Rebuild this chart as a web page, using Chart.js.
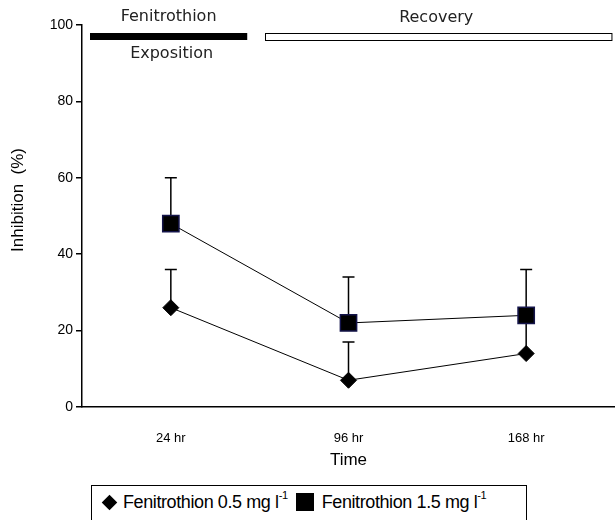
<!DOCTYPE html>
<html>
<head>
<meta charset="utf-8">
<script src="https://cdn.jsdelivr.net/npm/chart.js@4.4.1/dist/chart.umd.min.js"></script>
<style>
  html, body { margin: 0; background: #fff; overflow: hidden; width: 615px; height: 520px; }
  #chart { position: absolute; left: 0; top: 0; }
  #legend {
    position: absolute; left: 91px; top: 485px; width: 436px; height: 35px;
    border: 1px solid #000; border-bottom: none; box-sizing: border-box;
    font-family: "Liberation Sans Narrow", "Liberation Sans", Arial, sans-serif;
    font-size: 18px; color: #000; display: flex; align-items: center; padding: 0 0 2px 8px;
    letter-spacing: -0.4px;
  }
  #legend sup { font-size: 11px; position: relative; top: -2px; }
  .dia { display: inline-block; width: 11px; height: 11px; background: #000; transform: rotate(45deg); margin: 0 8px 0 4px; }
  .sq { display: inline-block; width: 18px; height: 18px; background: #000; margin: 0 8px 0 8px; }
</style>
</head>
<body>
<canvas id="chart" width="615" height="475"></canvas>
<div id="legend">
  <span class="dia"></span><span>Fenitrothion 0.5 mg l<sup>-1</sup></span>
  <span class="sq"></span><span>Fenitrothion 1.5 mg l<sup>-1</sup></span>
</div>
<script>
// Sampling times
const timeLabels = ['24 hr', '96 hr', '168 hr'];

// Inhibition (%) means and SD (upper bars only)
const lowDose = [26, 7, 14];
const lowDoseSD = [10, 10, 10];
const highDose = [48, 22, 24];
const highDoseSD = [12, 12, 12];

// Experimental phases drawn across the top
const phaseNames = ['Fenitrothion', 'Recovery'];
const phaseNote = 'Exposition';
const yTitle = 'Inhibition  (%)';

const axisFont = "'Liberation Sans Narrow', 'Liberation Sans', Arial, sans-serif";

// upper error bars, drawn under the markers
const errorBars = {
  id: 'errorBars',
  beforeDatasetsDraw(chart) {
    const ctx = chart.ctx;
    const y = chart.scales.y;
    chart.data.datasets.forEach((ds, i) => {
      const meta = chart.getDatasetMeta(i);
      meta.data.forEach((pt, j) => {
        const top = y.getPixelForValue(ds.data[j] + ds.sd[j]);
        ctx.save();
        ctx.strokeStyle = '#000';
        ctx.lineWidth = 1.5;
        ctx.beginPath();
        ctx.moveTo(pt.x, pt.y);
        ctx.lineTo(pt.x, top);
        ctx.moveTo(pt.x - 6, top);
        ctx.lineTo(pt.x + 6, top);
        ctx.stroke();
        ctx.restore();
      });
    });
  }
};

// exposition / recovery bars above the plot, plus the y title
const phaseBars = {
  id: 'phaseBars',
  afterDraw(chart) {
    const ctx = chart.ctx;
    const x = chart.scales.x;
    const top = chart.chartArea.top + 8;
    const x0 = x.getPixelForValue(-0.455), x1 = x.getPixelForValue(0.43);
    const x2 = x.getPixelForValue(0.53), x3 = x.getPixelForValue(2.48);
    ctx.save();
    ctx.fillStyle = '#000';
    ctx.fillRect(x0, top, x1 - x0, 7);
    ctx.strokeStyle = '#000';
    ctx.lineWidth = 1;
    ctx.fillStyle = '#fff';
    ctx.fillRect(x2, top + 0.5, x3 - x2, 7);
    ctx.strokeRect(x2 + 0.5, top + 0.5, x3 - x2, 7);
    ctx.fillStyle = '#222';
    ctx.font = "16px 'DejaVu Sans', sans-serif";
    ctx.textAlign = 'center';
    ctx.textBaseline = 'middle';
    ctx.fillText(phaseNames[0], (x0 + x1) / 2, 17);
    ctx.fillText(phaseNote, (x0 + x1) / 2 + 3, 54);
    ctx.fillText(phaseNames[1], (x2 + x3) / 2 - 2, 18);
    ctx.restore();

    ctx.save();
    ctx.fillStyle = '#000';
    ctx.font = "17px 'Liberation Sans', Arial, sans-serif";
    ctx.textAlign = 'center';
    ctx.textBaseline = 'middle';
    ctx.translate(18, 200);
    ctx.rotate(-Math.PI / 2);
    ctx.fillText(yTitle, 0, 0);
    ctx.restore();
  }
};

new Chart(document.getElementById('chart'), {
  type: 'line',
  data: {
    labels: timeLabels,
    datasets: [
      {
        label: 'Fenitrothion 0.5 mg l-1',
        data: lowDose,
        sd: lowDoseSD,
        borderColor: '#000',
        borderWidth: 1,
        pointStyle: 'rectRot',
        pointRadius: 8,
        pointBackgroundColor: '#000',
        pointBorderColor: '#000',
        pointBorderWidth: 1
      },
      {
        label: 'Fenitrothion 1.5 mg l-1',
        data: highDose,
        sd: highDoseSD,
        borderColor: '#000',
        borderWidth: 1,
        pointStyle: 'rect',
        pointRadius: 11.5,
        pointBackgroundColor: '#000',
        pointBorderColor: '#14144a',
        pointBorderWidth: 1.5
      }
    ]
  },
  options: {
    responsive: false,
    animation: false,
    layout: { autoPadding: false, padding: { top: 25, right: 0, left: 0, bottom: 0 } },
    plugins: {
      legend: { display: false },
      tooltip: { enabled: false }
    },
    scales: {
      x: {
        offset: true,
        grid: { display: false },
        border: { display: true, color: '#000', width: 1.5 },
        ticks: { color: '#000', padding: 16, font: { family: axisFont, size: 13 } },
        title: { display: true, text: 'Time', color: '#000', padding: { top: 4, bottom: 4 }, font: { family: axisFont, size: 17 } },
        afterFit(scale) {
          scale.height = 68;
          scale.paddingLeft = 0;
          scale.paddingRight = 0;
        }
      },
      y: {
        min: 0,
        max: 100,
        ticks: { stepSize: 20, color: '#000', padding: 3, font: { family: axisFont, size: 14 } },
        grid: { drawOnChartArea: false, drawTicks: true, tickLength: 6, color: '#000', lineWidth: 1.5 },
        border: { display: true, color: '#000', width: 1.5 },
        afterFit(scale) {
          scale.width = 82;
          scale.paddingTop = 0;
          scale.paddingBottom = 0;
        }
      }
    }
  },
  plugins: [errorBars, phaseBars]
});
</script>
</body>
</html>
